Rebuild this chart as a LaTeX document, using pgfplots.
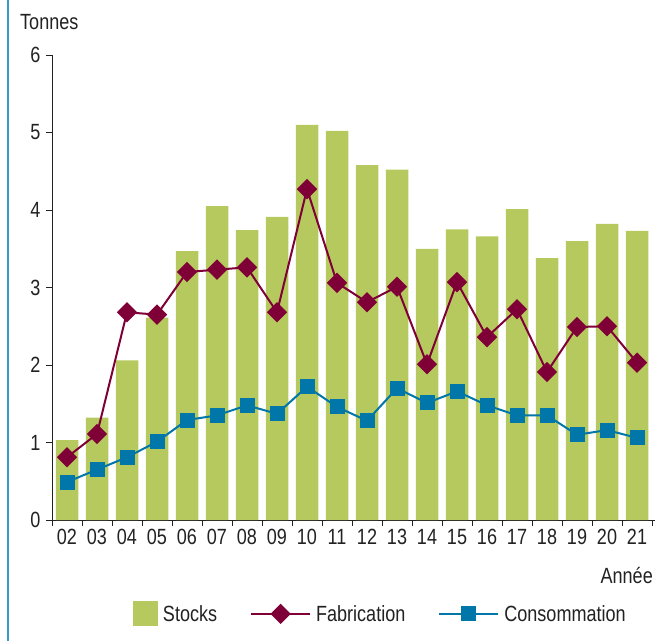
\documentclass[border=0pt]{standalone}
\usepackage{fontspec}
\setmainfont[FakeStretch=0.82]{Liberation Sans}
\usepackage{pgfplots}
\pgfplotsset{compat=1.18}
\definecolor{stock}{HTML}{B5C95E}
\definecolor{fab}{HTML}{7F0037}
\definecolor{cons}{HTML}{0077A8}
\definecolor{frame}{HTML}{3A9BC0}
\definecolor{txt}{HTML}{222222}
\newcommand\f{\fontsize{22}{26}\selectfont}
\pgfplotsset{
  linelegend/.style={legend image code/.code={\draw[mark repeat=2,mark phase=2,##1] plot coordinates {(0pt,0pt) (29.5pt,0pt) (59pt,0pt)};}},
  boxlegend/.style={legend image code/.code={\fill[stock] (0pt,-12.5pt) rectangle (25pt,12.5pt);}},
}
\begin{document}
\begin{tikzpicture}
\useasboundingbox (0pt,0pt) rectangle (659pt,641pt);
\draw[frame, line width=2pt] (7.5pt,0pt) -- (7.5pt,641pt);
\begin{axis}[
  at={(52pt,121pt)}, anchor=south west,
  scale only axis, width=603pt, height=465pt,
  xmin=-0.5, xmax=19.6, ymin=0, ymax=6,
  axis x line*=bottom, axis y line*=left,
  axis line style={txt, line width=1pt},
  ytick={0,1,2,3,4,5,6},
  xtick={-0.5,0.5,...,19.5},
  x tick label as interval,
  xticklabels={02,03,04,05,06,07,08,09,10,11,12,13,14,15,16,17,18,19,20,21},
  tick align=outside, major tick length=6pt,
  tick style={txt, line width=1pt},
  ticklabel style={font=\f, text=txt},
  yticklabel style={xshift=-2pt},
  /pgf/number format/assume math mode=true,
  legend style={at={(0.547,-0.202)}, anchor=center, draw=none, font=\f, text=txt,
    legend columns=3, /tikz/every even column/.append style={column sep=28pt},
    nodes={inner xsep=5pt}},
]
\addplot[ybar, bar width=0.75, fill=stock, draw=none, boxlegend]
  coordinates {(0,1.03) (1,1.32) (2,2.06) (3,2.61) (4,3.47) (5,4.05) (6,3.74) (7,3.91) (8,5.10) (9,5.02)
  (10,4.58) (11,4.52) (12,3.50) (13,3.75) (14,3.66) (15,4.01) (16,3.38) (17,3.60) (18,3.82) (19,3.73)};
\addlegendentry{Stocks}
\addplot[fab, line width=2pt, mark=square*, mark size=6.2pt, mark options={solid, fill=fab, rotate=45}, linelegend]
  coordinates {(0,0.81) (1,1.11) (2,2.68) (3,2.65) (4,3.20) (5,3.23) (6,3.26) (7,2.68) (8,4.27) (9,3.06)
  (10,2.81) (11,3.01) (12,2.01) (13,3.07) (14,2.36) (15,2.72) (16,1.91) (17,2.49) (18,2.50) (19,2.03)};
\addlegendentry{Fabrication}
\addplot[cons, line width=2pt, mark=square*, mark size=6.5pt, mark options={solid, fill=cons}, linelegend]
  coordinates {(0,0.49) (1,0.65) (2,0.81) (3,1.01) (4,1.29) (5,1.35) (6,1.48) (7,1.37) (8,1.72) (9,1.46)
  (10,1.28) (11,1.70) (12,1.51) (13,1.66) (14,1.48) (15,1.35) (16,1.35) (17,1.10) (18,1.16) (19,1.06)};
\addlegendentry{Consommation}
\end{axis}
\node[anchor=base west, font=\f, text=txt, inner sep=0pt] at (20pt,611pt) {Tonnes};
\node[anchor=base east, font=\f, text=txt, inner sep=0pt] at (653pt,58pt) {Année};
\end{tikzpicture}
\end{document}
